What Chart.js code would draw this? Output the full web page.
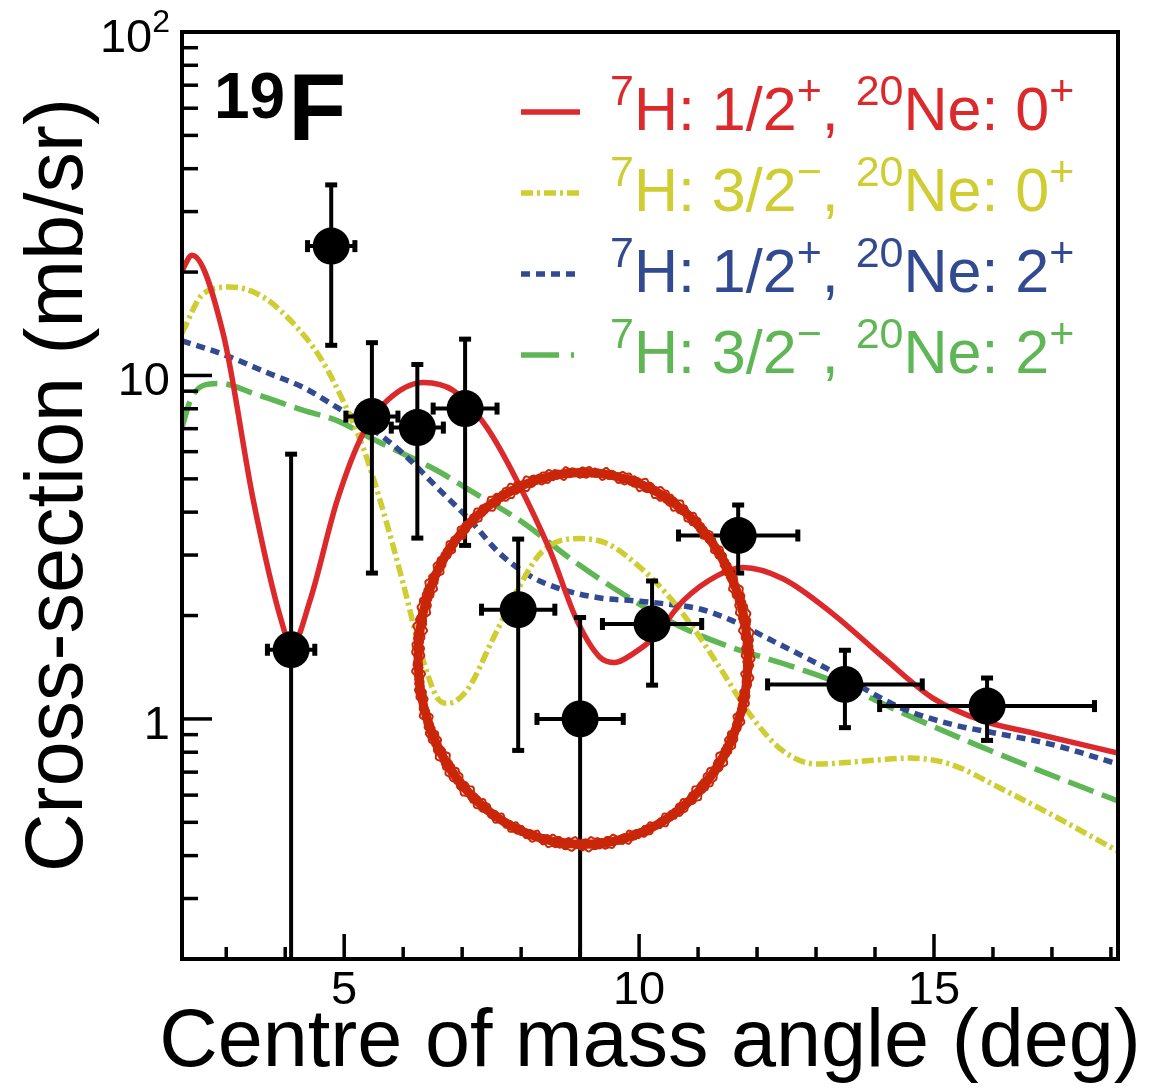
<!DOCTYPE html>
<html><head><meta charset="utf-8">
<script src="https://cdn.jsdelivr.net/npm/chart.js@4.4.1/dist/chart.umd.min.js"></script>
<style>html,body{margin:0;padding:0;background:#fff;} #wrap{width:1152px;height:1092px;position:relative;}</style>
</head><body><div id="wrap"><canvas id="c" width="1152" height="1092"></canvas></div>
<script>
// ---- data ----
const pointAngles    = [4.10, 4.78, 5.47, 6.24, 7.05, 7.95, 9.00, 10.22, 11.68, 13.49, 15.90];
const pointValues    = [1.59, 23.8, 7.59, 7.05, 8.01, 2.08, 1.00, 1.89, 3.42, 1.26, 1.09];
const pointUpper     = [5.92, 36.0, 12.5, 10.8, 12.8, 3.35, 1.98, 2.53, 4.21, 1.59, 1.32];
const pointLower     = [null, 12.2, 2.65, 3.35, 3.19, 0.807, null, 1.25, 2.65, 0.94, 0.863];
const pointAngleErr  = [0.41, 0.41, 0.45, 0.45, 0.55, 0.63, 0.74, 0.85, 1.02, 1.32, 1.83];

const redAngles = [2.25, 2.42, 2.95, 3.46, 3.92, 4.11, 4.42, 4.88, 5.32, 5.73, 6.34, 6.85, 7.42, 7.93, 8.49, 8.95, 9.34, 9.59, 9.90, 10.24, 10.75, 11.32, 11.76, 12.44, 13.29, 14.14, 14.98, 15.83, 16.68, 18.12];
const redValues = [20.2, 22.4, 13.2, 4.32, 1.97, 1.63, 2.21, 4.32, 6.78, 8.45, 9.54, 9.04, 7.05, 4.94, 3.09, 1.93, 1.51, 1.46, 1.55, 1.72, 2.21, 2.61, 2.76, 2.56, 2.02, 1.51, 1.15, 0.987, 0.91, 0.796];

const yellowAngles = [2.25, 2.61, 3.07, 3.63, 4.20, 4.59, 4.98, 5.32, 5.61, 6.00, 6.29, 6.58, 6.75, 7.08, 7.53, 7.93, 8.37, 9.00, 9.46, 10.02, 10.47, 10.92, 11.37, 11.88, 12.44, 13.02, 13.86, 14.59, 15.27, 16.12, 16.97, 18.12];
const yellowValues = [13.3, 17.3, 18.1, 16.9, 13.8, 11.3, 8.45, 6.17, 4.32, 2.48, 1.58, 1.15, 1.11, 1.21, 1.72, 2.36, 3.09, 3.35, 3.24, 2.76, 2.31, 1.84, 1.41, 1.03, 0.807, 0.739, 0.755, 0.769, 0.739, 0.629, 0.529, 0.412];

const blueAngles = [2.25, 2.90, 3.75, 4.31, 4.88, 5.44, 6.00, 6.58, 7.14, 7.64, 8.20, 8.78, 9.34, 9.90, 10.47, 11.03, 11.59, 12.17, 13.02, 13.58, 14.42, 15.27, 16.12, 16.97, 18.12];
const blueValues = [12.6, 11.6, 10.1, 9.22, 8.07, 7.05, 5.92, 4.71, 3.78, 3.03, 2.58, 2.36, 2.25, 2.21, 2.16, 2.09, 1.93, 1.72, 1.45, 1.29, 1.08, 0.967, 0.904, 0.845, 0.739];

const greenAngles = [2.25, 2.39, 2.61, 2.90, 3.46, 4.31, 4.88, 5.44, 6.00, 6.58, 7.14, 7.98, 8.88, 9.56, 10.19, 10.75, 11.59, 12.44, 13.29, 14.42, 15.56, 16.68, 18.12];
const greenValues = [7.05, 8.45, 9.35, 9.48, 8.87, 7.91, 7.39, 6.59, 5.92, 5.28, 4.62, 3.78, 2.89, 2.41, 2.07, 1.84, 1.61, 1.45, 1.29, 1.05, 0.863, 0.72, 0.577];

const seriesLabels = ['⁷H: 1/2⁺, ²⁰Ne: 0⁺', '⁷H: 3/2⁻, ²⁰Ne: 0⁺', '⁷H: 1/2⁺, ²⁰Ne: 2⁺', '⁷H: 3/2⁻, ²⁰Ne: 2⁺'];
const targetLabel = '¹⁹F';
const xTickValues = [3,4,5,6,7,8,9,10,11,12,13,14,15,16,17,18];
const xTickLabels = {5:'5', 10:'10', 15:'15'};
const yTickValues = [0.3,0.4,0.5,0.6,0.7,0.8,0.9,1,2,3,4,5,6,7,8,9,10,20,30,40,50,60,70,80,90];
const yTickLabels = {1:'1', 10:'10', 100:'10²'};
const xTitle = 'Centre of mass angle (deg)';
const yTitle = 'Cross-section (mb/sr)';
const circleCentreAngle = 9.05, circleCentreValue = 1.50;

// ---- styles ----
const FONT = '"Liberation Sans", Arial, Helvetica, sans-serif';
const colRed = '#dc2a2c', colYellow = '#cfcd32', colBlue = '#324a90', colGreen = '#5fb655';
const styles = [
  {c: colRed, dash: []},
  {c: colYellow, dash: [12,4,3,4]},
  {c: colBlue, dash: [9,6]},
  {c: colGreen, dash: [27,9]}
];
const legendDash = [[], [12,4,3,4], [9,6], [38,12,3,12]];
const zip = (a, b) => a.map((v, i) => ({x: v, y: b[i]}));

const supMap = {'⁰':'0','¹':'1','²':'2','³':'3','⁴':'4','⁵':'5','⁶':'6','⁷':'7','⁸':'8','⁹':'9','⁺':'+','⁻':'−'};
function splitRich(str){
  const segs = [];
  for (const ch of str){
    const s = ch in supMap;
    const t = s ? supMap[ch] : ch;
    if (segs.length && segs[segs.length-1].sup === s) segs[segs.length-1].t += t;
    else segs.push({t, sup: s});
  }
  return segs;
}
function richWidth(ctx, str, size, supSize, weight){
  let w = 0;
  for (const s of splitRich(str)){
    ctx.font = (weight||'') + ' ' + (s.sup ? supSize : size) + 'px ' + FONT;
    w += ctx.measureText(s.t).width;
  }
  return w;
}
function drawRich(ctx, str, x, y, size, supSize, raise, weight){
  for (const s of splitRich(str)){
    ctx.font = (weight||'') + ' ' + (s.sup ? supSize : size) + 'px ' + FONT;
    ctx.fillText(s.t, x, s.sup ? y - raise : y);
    x += ctx.measureText(s.t).width;
  }
  return x;
}

const decor = {
  id: 'decor',
  afterDatasetsDraw(chart){
    const ctx = chart.ctx, xs = chart.scales.x, ys = chart.scales.y, a = chart.chartArea;
    ctx.save();
    ctx.beginPath(); ctx.rect(a.left, a.top, a.right - a.left, a.bottom - a.top); ctx.clip();
    ctx.strokeStyle = '#000'; ctx.fillStyle = '#000'; ctx.lineWidth = 4;
    for (let i = 0; i < pointAngles.length; i++){
      const px = xs.getPixelForValue(pointAngles[i]);
      const py = ys.getPixelForValue(pointValues[i]);
      const yt = ys.getPixelForValue(pointUpper[i]);
      const yb = pointLower[i] === null ? a.bottom + 10 : ys.getPixelForValue(pointLower[i]);
      const xl = xs.getPixelForValue(pointAngles[i] - pointAngleErr[i]);
      const xr = xs.getPixelForValue(pointAngles[i] + pointAngleErr[i]);
      ctx.beginPath(); ctx.moveTo(px, yt); ctx.lineTo(px, yb); ctx.stroke();
      ctx.beginPath(); ctx.moveTo(xl, py); ctx.lineTo(xr, py); ctx.stroke();
      ctx.fillRect(px - 6, yt - 2, 12, 5);
      if (pointLower[i] !== null) ctx.fillRect(px - 6, yb - 3, 12, 5);
      ctx.fillRect(xl - 2, py - 6, 5, 12);
      ctx.fillRect(xr - 3, py - 6, 5, 12);
      ctx.beginPath(); ctx.arc(px, py, 18.5, 0, Math.PI * 2); ctx.fill();
    }
    ctx.restore();
  },
  afterDraw(chart){
    const ctx = chart.ctx, xs = chart.scales.x, ys = chart.scales.y, a = chart.chartArea;
    ctx.save();
    // frame
    ctx.strokeStyle = '#000'; ctx.lineWidth = 4;
    ctx.strokeRect(a.left, a.top, a.right - a.left, a.bottom - a.top);
    // ticks
    ctx.lineWidth = 3.5;
    for (const v of xTickValues){
      const px = xs.getPixelForValue(v);
      const len = xTickLabels[v] ? 25 : 12;
      ctx.beginPath(); ctx.moveTo(px, a.bottom); ctx.lineTo(px, a.bottom - len); ctx.stroke();
    }
    for (const v of yTickValues){
      const py = ys.getPixelForValue(v);
      const len = yTickLabels[v] ? 30 : 16;
      ctx.beginPath(); ctx.moveTo(a.left, py); ctx.lineTo(a.left + len, py); ctx.stroke();
    }
    // tick labels
    ctx.fillStyle = '#000'; ctx.textBaseline = 'alphabetic';
    ctx.textAlign = 'left';
    for (const v of Object.keys(xTickLabels)){
      const px = xs.getPixelForValue(+v);
      const w = richWidth(ctx, xTickLabels[v], 47, 32);
      drawRich(ctx, xTickLabels[v], px - w/2, a.bottom + 45, 47, 32, 18);
    }
    for (const v of Object.keys(yTickLabels)){
      const py = ys.getPixelForValue(+v);
      const w = richWidth(ctx, yTickLabels[v], 47, 32);
      drawRich(ctx, yTickLabels[v], 170 - w, py + 20, 47, 32, 20);
    }
    // axis titles
    ctx.font = '81px ' + FONT;
    ctx.textAlign = 'center';
    ctx.fillText(xTitle, (a.left + a.right) / 2, 1066);
    ctx.save();
    ctx.translate(82, 485); ctx.rotate(-Math.PI/2);
    ctx.fillText(yTitle, 0, 0);
    ctx.restore();
    // target label
    ctx.textAlign = 'left';
    const segs = splitRich(targetLabel);
    ctx.font = 'bold 64px ' + FONT; ctx.fillText(segs[0].t, 214, 118);
    let w = ctx.measureText(segs[0].t).width;
    ctx.font = 'bold 95px ' + FONT; ctx.fillText(segs[1].t, 214 + w + 3, 140);
    // legend
    for (let i = 0; i < seriesLabels.length; i++){
      const base = 130 + i * 81;
      ctx.strokeStyle = styles[i].c; ctx.lineWidth = 5.5; ctx.setLineDash(legendDash[i]);
      ctx.beginPath(); ctx.moveTo(521, base - 18); ctx.lineTo(580, base - 18); ctx.stroke();
      ctx.setLineDash([]);
      ctx.fillStyle = styles[i].c;
      drawRich(ctx, seriesLabels[i], 610, base, 61, 43, 25);
    }
    // hand-drawn circle annotation
    const cx = xs.getPixelForValue(circleCentreAngle), cy = ys.getPixelForValue(circleCentreValue);
    const rx = 165, ry = 186;
    ctx.strokeStyle = '#c9260a'; ctx.lineCap = 'round';
    ctx.lineWidth = 9;
    ctx.beginPath(); ctx.ellipse(cx, cy, rx, ry, 0, 0, Math.PI * 2); ctx.stroke();
    const offs = [-4.5, 4.5, -2.5, 3, 0];
    for (let p = 0; p < offs.length; p++){
      ctx.lineWidth = 2;
      ctx.beginPath();
      for (let k = 0; k <= 900; k++){
        const t = k / 900 * Math.PI * 2;
        const o = offs[p] + 1.3 * Math.sin(t * 53 + p * 2) + 0.9 * Math.sin(t * 131 + p) + 0.6 * Math.sin(t * 7 + p * 3);
        const x = cx + (rx + o) * Math.cos(t), y = cy + (ry + o) * Math.sin(t);
        if (k === 0) ctx.moveTo(x, y); else ctx.lineTo(x, y);
      }
      ctx.stroke();
    }
    ctx.restore();
  }
};

const lineDs = (ang, val, i) => ({
  type: 'line', data: zip(ang, val), borderColor: styles[i].c, borderWidth: 5.5,
  borderDash: styles[i].dash, pointRadius: 0, fill: false, cubicInterpolationMode: 'monotone'
});

new Chart(document.getElementById('c'), {
  type: 'line',
  data: { datasets: [
    lineDs(redAngles, redValues, 0),
    lineDs(yellowAngles, yellowValues, 1),
    lineDs(blueAngles, blueValues, 2),
    lineDs(greenAngles, greenValues, 3)
  ]},
  options: {
    responsive: false, animation: false, devicePixelRatio: 1,
    layout: { padding: { left: 182, right: 34, top: 32, bottom: 133 } },
    plugins: { legend: { display: false }, tooltip: { enabled: false } },
    scales: {
      x: { type: 'linear', min: 2.25, max: 18.12, display: false },
      y: { type: 'logarithmic', min: 0.2, max: 100, display: false }
    }
  },
  plugins: [decor]
});
</script></body></html>
